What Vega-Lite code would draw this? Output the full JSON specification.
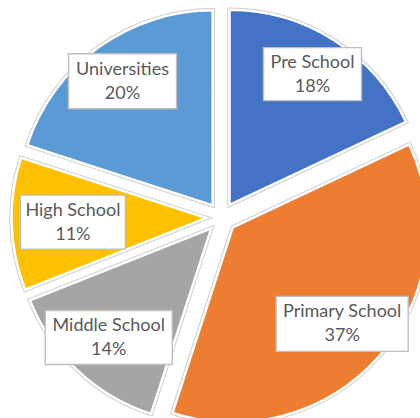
{
  "$schema": "https://vega.github.io/schema/vega-lite/v6.json",
  "width": 420,
  "height": 418,
  "autosize": {"type": "none"},
  "padding": 0,
  "background": "white",
  "config": {"view": {"stroke": null}},
  "data": {
    "values": [
      {"category": "Pre School", "share": 0.18, "idx": 1},
      {"category": "Primary School", "share": 0.37, "idx": 2},
      {"category": "Middle School", "share": 0.14, "idx": 3},
      {"category": "High School", "share": 0.11, "idx": 4},
      {"category": "Universities", "share": 0.20, "idx": 5}
    ]
  },
  "transform": [
    {"joinaggregate": [{"op": "sum", "field": "share", "as": "total"}]},
    {"window": [{"op": "sum", "field": "share", "as": "cum"}], "sort": [{"field": "idx"}], "frame": [null, 0]},
    {"calculate": "2*PI*(datum.cum - datum.share/2)/datum.total", "as": "mid"},
    {"calculate": "15*sin(datum.mid)", "as": "ex"},
    {"calculate": "15*cos(datum.mid)", "as": "ey"},
    {"calculate": "202 - min((4.3*length(datum.category)+6)/max(abs(sin(datum.mid)),0.001), 27.2/max(abs(cos(datum.mid)),0.001))", "as": "lr"},
    {"calculate": "datum.lr*sin(datum.mid)", "as": "lx"},
    {"calculate": "datum.lr*cos(datum.mid)", "as": "ly"}
  ],
  "layer": [
    {
      "mark": {"type": "arc", "outerRadius": 195, "stroke": "#cfcfcf", "strokeWidth": 4.5},
      "encoding": {
        "theta": {"field": "share", "type": "quantitative", "stack": true},
        "order": {"field": "idx", "type": "quantitative"},
        "x": {"field": "ex", "type": "quantitative", "axis": null, "scale": {"domain": [-221.5, 198.5], "nice": false, "zero": false}},
        "y": {"field": "ey", "type": "quantitative", "axis": null, "scale": {"domain": [-200.5, 217.5], "nice": false, "zero": false}},
        "color": {"field": "category", "type": "nominal", "legend": null,
          "scale": {"domain": ["Pre School", "Primary School", "Middle School", "High School", "Universities"],
                    "range": ["#4472C4", "#ED7D31", "#A5A5A5", "#FFC000", "#5B9BD5"]}}
      }
    },
    {
      "mark": {"type": "arc", "outerRadius": 195, "stroke": "white", "strokeWidth": 2.5},
      "encoding": {
        "theta": {"field": "share", "type": "quantitative", "stack": true},
        "order": {"field": "idx", "type": "quantitative"},
        "x": {"field": "ex", "type": "quantitative"},
        "y": {"field": "ey", "type": "quantitative"},
        "color": {"field": "category", "type": "nominal", "legend": null}
      }
    },
    {
      "mark": {"type": "point", "filled": true, "fill": "white", "stroke": "#bfbfbf", "strokeWidth": 1.4, "opacity": 1, "size": 4},
      "encoding": {
        "x": {"field": "lx", "type": "quantitative"},
        "y": {"field": "ly", "type": "quantitative"},
        "shape": {"field": "category", "type": "nominal", "legend": null,
          "scale": {"domain": ["Pre School", "Primary School", "Middle School", "High School", "Universities"],
                    "range": ["M-49,-26.5H49V26.5H-49Z", "M-66,-27.5H66V27.5H-66Z", "M-63.5,-27H63.5V27H-63.5Z", "M-52.5,-27H52.5V27H-52.5Z", "M-54,-27.5H54V27.5H-54Z"]}}
      }
    },
    {
      "mark": {"type": "text", "dy": -11.5, "font": "Lato", "fontSize": 18, "color": "#595959"},
      "encoding": {
        "x": {"field": "lx", "type": "quantitative"},
        "y": {"field": "ly", "type": "quantitative"},
        "text": {"field": "category", "type": "nominal"}
      }
    },
    {
      "mark": {"type": "text", "dy": 12.5, "font": "Lato", "fontSize": 18, "color": "#595959"},
      "encoding": {
        "x": {"field": "lx", "type": "quantitative"},
        "y": {"field": "ly", "type": "quantitative"},
        "text": {"field": "share", "type": "quantitative", "format": ".0%"}
      }
    }
  ]
}
